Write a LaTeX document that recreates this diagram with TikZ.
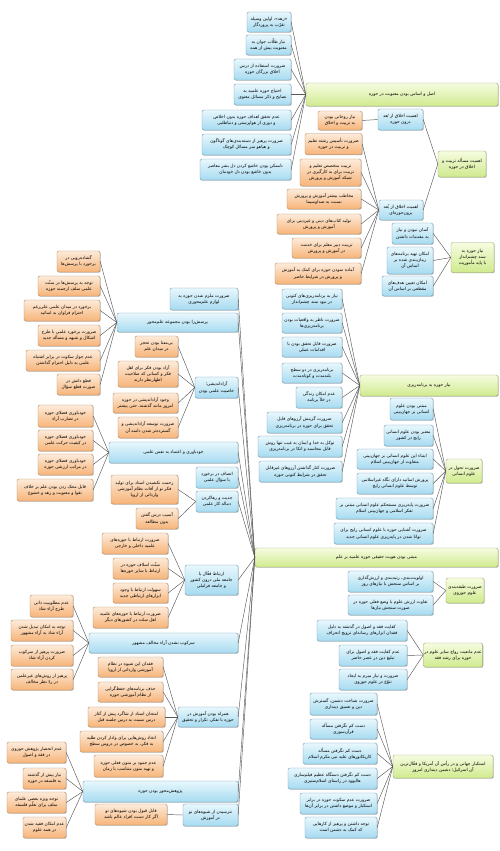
\documentclass[tikz,border=0pt]{standalone}
\usepackage{fontspec}
\newfontfamily\fa[Script=Arabic]{DejaVu Sans}
\TeXXeTstate=1
\usetikzlibrary{shadows}
\newcommand\rl[1]{\beginR #1\endR}
\definecolor{bluetop}{HTML}{E8F7FD}
\definecolor{bluebot}{HTML}{A6DBF0}
\definecolor{bluebd}{HTML}{6E9FB5}
\definecolor{ortop}{HTML}{FDEBDA}
\definecolor{orbot}{HTML}{F7B479}
\definecolor{orbd}{HTML}{B98A5E}
\definecolor{grtop}{HTML}{F6FCE0}
\definecolor{grbot}{HTML}{D0EA8E}
\definecolor{grbd}{HTML}{98AE6A}
\tikzset{
  bxbase/.style={rectangle, rounded corners=2pt, align=center, inner sep=0.8pt,
    font=\fa\fontsize{4.4}{6.1}\selectfont, text=black, line width=0.4pt,
    drop shadow={shadow xshift=0.7pt, shadow yshift=-0.7pt, opacity=0.3, fill=black}},
  bb/.style={bxbase, draw=bluebd, top color=bluetop, bottom color=bluebot},
  ob/.style={bxbase, draw=orbd, top color=ortop, bottom color=orbot},
  gb/.style={bxbase, draw=grbd, top color=grtop, bottom color=grbot},
  ln/.style={draw=black!65, line width=0.45pt}
}
\begin{document}
\begin{tikzpicture}[x=1pt,y=-1pt]
\fill[white] (0,0) rectangle (500,851);
\useasboundingbox (0,0) rectangle (500,851);

% ---------- cluster 1 ----------
\node[gb,minimum width=192pt,minimum height=23pt] (a0) at (402,94.5) {\rl{اصل و اساس بودن معنویت در حوزه}};
\node[bb,minimum width=44pt,minimum height=20pt] (a1) at (269,22) {\rl{«زهد»، اولین وسیله}\\\rl{تقرّب به پروردگار}};
\node[bb,minimum width=45pt,minimum height=20pt] (a2) at (268.5,45) {\rl{نیاز طلّاب جوان به}\\\rl{معنویت بیش از همه}};
\node[bb,minimum width=57pt,minimum height=21pt] (a3) at (262.5,69.5) {\rl{ضرورت استفاده از درس}\\\rl{اخلاق بزرگان حوزه}};
\node[bb,minimum width=57pt,minimum height=21pt] (a4) at (262.5,94.5) {\rl{احتیاج حوزه علمیه به}\\\rl{نصایح و ذکر مسائل معنوی}};
\node[bb,minimum width=89pt,minimum height=20pt] (a5) at (246.5,120) {\rl{عدم تحقق اهداف حوزه بدون اخلاص}\\\rl{و دوری از هواپرستی و دنیاطلبی}};
\node[bb,minimum width=89pt,minimum height=21pt] (a6) at (246.5,144.5) {\rl{ضرورت پرهیز از دسته‌بندی‌های گوناگون}\\\rl{و هیاهو سر مسائل کوچک}};
\node[bb,minimum width=91pt,minimum height=21pt] (a7) at (245.5,169.5) {\rl{ناممکن بودن خاشع کردن دل بشر معاصر}\\\rl{بدون خاشع بودن دل خودمان}};
\foreach \i in {1,...,7} {\draw[ln] (a\i.east) -- (a0.west);}

% ---------- tarbiat ----------
\node[gb,minimum width=48pt,minimum height=26pt] (t0) at (462,164) {\rl{اهمیت مسأله تربیت و}\\\rl{اخلاق در حوزه}};
\node[bb,minimum width=45pt,minimum height=21pt] (t1) at (400.5,119.5) {\rl{اهمیت اخلاق از بُعد}\\\rl{درون حوزه}};
\node[ob,minimum width=44pt,minimum height=19pt] (t1a) at (340,120.5) {\rl{نیاز روحانی بودن}\\\rl{به تربیت و اخلاق}};
\node[bb,minimum width=44pt,minimum height=20pt] (t2) at (401,210) {\rl{اهمیت اخلاق از بُعد}\\\rl{برون‌حوزه‌ای}};
\node[ob,minimum width=57pt,minimum height=21pt] (t2a) at (333.5,144) {\rl{ضرورت تأسیس رشته تعلیم}\\\rl{و تربیت در حوزه}};
\node[ob,minimum width=61pt,minimum height=27pt] (t2b) at (330.5,172.5) {\rl{تربیت متخصص تعلیم و}\\\rl{تربیت برای به کارگیری در}\\\rl{شبکه آموزش و پرورش}};
\node[ob,minimum width=74pt,minimum height=20pt] (t2c) at (324,199) {\rl{مخاطب بیشتر آموزش و پرورش}\\\rl{نسبت به صداوسیما}};
\node[ob,minimum width=84pt,minimum height=20pt] (t2d) at (319,224) {\rl{تولید کتاب‌های دینی و غیردینی برای}\\\rl{آموزش و پرورش}};
\node[ob,minimum width=69pt,minimum height=20pt] (t2e) at (326.5,248) {\rl{تربیت دبیر معلم برای خدمت}\\\rl{در آموزش و پرورش}};
\node[ob,minimum width=86pt,minimum height=21pt] (t2f) at (318,273.5) {\rl{آماده نمودن حوزه برای کمک به آموزش}\\\rl{و پرورش در شرایط حاضر}};
\draw[ln] (t1.east) -- (t0.west);
\draw[ln] (t2.east) -- (t0.west);
\draw[ln] (t1a.east) -- (t1.west);
\foreach \i in {a,b,c,d,e,f} {\draw[ln] (t2\i.east) -- (t2.west);}

% ---------- sanad ----------
\node[gb,minimum width=43pt,minimum height=30pt] (s0) at (472.5,257.5) {\rl{نیاز حوزه به}\\\rl{سند چشم‌انداز}\\\rl{با پایه مأموریت}};
\node[bb,minimum width=41pt,minimum height=21pt] (s1) at (412.5,233.5) {\rl{آسان نبودن و نیاز}\\\rl{به مقدمات داشتن}};
\node[bb,minimum width=46pt,minimum height=27pt] (s2) at (410,260.5) {\rl{امکان تهیه برنامه‌های}\\\rl{زمان‌بندی شده بر}\\\rl{اساس آن}};
\node[bb,minimum width=51pt,minimum height=20pt] (s3) at (407.5,286) {\rl{امکان تعیین هدف‌های}\\\rl{مقطعی بر اساس آن}};
\foreach \i in {1,2,3} {\draw[ln] (s\i.east) -- (s0.west);}

% ---------- barnameh ----------
\node[gb,minimum width=138pt,minimum height=21pt] (p0) at (429,385.5) {\rl{نیاز حوزه به برنامه‌ریزی}};
\node[bb,minimum width=60pt,minimum height=20pt] (p1) at (312,299) {\rl{نیاز به برنامه‌ریزی‌های کنونی}\\\rl{در نبود سند چشم‌انداز}};
\node[bb,minimum width=60pt,minimum height=20pt] (p2) at (312,323) {\rl{ضرورت ناظر به واقعیات بودن}\\\rl{برنامه‌ریزی‌ها}};
\node[bb,minimum width=60pt,minimum height=20pt] (p3) at (312,347) {\rl{ضرورت قابل تحقق بودن با}\\\rl{اقدامات عملی}};
\node[bb,minimum width=60pt,minimum height=20pt] (p4) at (312,373) {\rl{برنامه‌ریزی در دو سطح}\\\rl{بلندمدت و کوتاه‌مدت}};
\node[bb,minimum width=46pt,minimum height=21pt] (p5) at (319,397.5) {\rl{عدم امکان زندگی}\\\rl{در خلأ برنامه}};
\node[bb,minimum width=75pt,minimum height=21pt] (p6) at (304.5,422.5) {\rl{ضرورت گزینش آرزوهای قابل}\\\rl{تحقق برای حوزه در برنامه‌ریزی}};
\node[bb,minimum width=84pt,minimum height=21pt] (p7) at (300,446.5) {\rl{توکل به خدا و ایمان به غیب تنها روش}\\\rl{قابل محاسبه و اتکا در برنامه‌ریزی}};
\node[bb,minimum width=83pt,minimum height=21pt] (p8) at (300.5,471.5) {\rl{ضرورت کنار گذاشتن آرزوهای غیرقابل}\\\rl{تحقق در شرایط کنونی حوزه}};
\foreach \i in {1,...,8} {\draw[ln] (p\i.east) -- (p0.west);}

% ---------- tahavol ----------
\node[gb,minimum width=36pt,minimum height=24pt] (h0) at (464,471) {\rl{ضرورت تحول در}\\\rl{علوم انسانی}};
\node[bb,minimum width=43pt,minimum height=22pt] (h1) at (411.5,409) {\rl{مبتنی بودن علوم}\\\rl{انسانی بر جهان‌بینی}};
\node[bb,minimum width=49pt,minimum height=21pt] (h2) at (408.5,435.5) {\rl{معتبر بودن علوم انسانی}\\\rl{رایج در کشور}};
\node[bb,minimum width=76pt,minimum height=20pt] (h3) at (395,459) {\rl{ابتناء این علوم انسانی بر جهان‌بینی}\\\rl{متفاوت از جهان‌بینی اسلام}};
\node[bb,minimum width=76pt,minimum height=21pt] (h4) at (395,483.5) {\rl{پرورش اساتید دارای نگاه غیراسلامی}\\\rl{توسط علوم انسانی رایج}};
\node[bb,minimum width=97pt,minimum height=21pt] (h5) at (384.5,508.5) {\rl{ضرورت پایه‌ریزی مستحکم علوم انسانی مبتنی بر}\\\rl{تفکر اسلامی و جهان‌بینی اسلام}};
\node[bb,minimum width=99pt,minimum height=21pt] (h6) at (383.5,533.5) {\rl{ضرورت آشنایی حوزه با علوم انسانی رایج برای}\\\rl{توانا شدن در پایه‌ریزی علوم انسانی جدید}};
\foreach \i in {1,...,6} {\draw[ln] (h\i.east) -- (h0.west);}

% ---------- central ----------
\node[gb,minimum width=243pt,minimum height=19pt] (c0) at (376.5,557.5) {\rl{مبتنی بودن هویت حقیقی حوزه علمیه بر علم}};

% ---------- tabaqe ----------
\node[gb,minimum width=38pt,minimum height=25pt] (k0) at (465,590.5) {\rl{ضرورت طبقه‌بندی}\\\rl{علوم حوزوی}};
\node[bb,minimum width=85pt,minimum height=21pt] (k1) at (390.5,581.5) {\rl{اولویت‌بندی، رتبه‌بندی و ارزش‌گذاری}\\\rl{بر اساس سنجش با نیازهای روز}};
\node[bb,minimum width=85pt,minimum height=20pt] (k2) at (390.5,605) {\rl{تفاوت ارزش علوم با وضع فعلی حوزه در}\\\rl{صورت سنجش نیازها}};
\foreach \i in {1,2} {\draw[ln] (k\i.east) -- (k0.west);}

% ---------- manei ----------
\node[gb,minimum width=58pt,minimum height=24pt] (m0) at (453,655) {\rl{عدم مانعیت رواج سایر علوم در}\\\rl{حوزه برای رشد فقه}};
\node[bb,minimum width=90pt,minimum height=21pt] (m1) at (362,630.5) {\rl{کفایت فقه و اصول در گذشته به دلیل}\\\rl{فقدان ابزارهای رسانه‌ای ترویج انحراف}};
\node[bb,minimum width=68pt,minimum height=21pt] (m2) at (373,655.5) {\rl{عدم کفایت فقه و اصول برای}\\\rl{تبلیغ دین در عصر حاضر}};
\node[bb,minimum width=68pt,minimum height=21pt] (m3) at (373,679.5) {\rl{ضرورت و نیاز مبرم به ایجاد}\\\rl{تنوّع در علوم حوزوی}};
\foreach \i in {1,2,3} {\draw[ln] (m\i.east) -- (m0.west);}

% ---------- estekbar ----------
\node[gb,minimum width=100pt,minimum height=23pt] (e0) at (443,766.5) {\rl{استکبار جهانی و در رأس آن آمریکا و فعّال‌ترین}\\\rl{آن اسرائیل؛ دشمن دینداری امروز}};
\node[bb,minimum width=67pt,minimum height=22pt] (e1) at (343.5,704) {\rl{ضرورت شناخت دشمن، گسترش}\\\rl{دین و تعمیق دینداری}};
\node[bb,minimum width=67pt,minimum height=20pt] (e2) at (343.5,729) {\rl{دست کم نگرفتن مسأله}\\\rl{قرآن‌سوزی}};
\node[bb,minimum width=74pt,minimum height=21pt] (e3) at (340,753.5) {\rl{دست کم نگرفتن مسأله}\\\rl{کاریکاتورهای علیه نبی مکرم اسلام}};
\node[bb,minimum width=89pt,minimum height=21pt] (e4) at (332.5,778.5) {\rl{دست کم نگرفتن دستگاه عظیم فیلم‌سازی}\\\rl{هالیوود در راستای اسلام‌ستیزی}};
\node[bb,minimum width=77pt,minimum height=21pt] (e5) at (338.5,803.5) {\rl{ضرورت عدم سکوت حوزه در برابر}\\\rl{استکبار و موضع داشتن در برابر آن‌ها}};
\node[bb,minimum width=72pt,minimum height=21pt] (e6) at (341,827.5) {\rl{توجه داشتن و پرهیز از کارهایی}\\\rl{که کمک به دشمن است}};
\foreach \i in {1,...,6} {\draw[ln] (e\i.east) -- (e0.west);}

% ---------- left side ----------
\node[bb,minimum width=68pt,minimum height=22pt] (L1) at (204,299) {\rl{ضرورت ملزم شدن حوزه به}\\\rl{لوازم علم‌محوری}};
\node[bb,minimum width=121pt,minimum height=19pt] (L2) at (177.5,322.5) {\rl{پرسش‌زا بودن مجموعه علم‌محور}};
\node[ob,minimum width=43pt,minimum height=21pt] (q1) at (78.5,261.5) {\rl{گشاده‌رویی در}\\\rl{برخورد با پرسش‌ها}};
\node[ob,minimum width=62pt,minimum height=20pt] (q2) at (69,286) {\rl{توجه به پرسش‌ها در سنّت}\\\rl{علمی سلف ارجمند حوزه}};
\node[ob,minimum width=76pt,minimum height=21pt] (q3) at (62,310.5) {\rl{برخورد در میدان علمی علی‌رغم}\\\rl{احترام فراوان به اساتید}};
\node[ob,minimum width=62pt,minimum height=21pt] (q4) at (69,335.5) {\rl{ضرورت برخورد علمی با طرح}\\\rl{اشکال و شبهه و مسأله جدید}};
\node[ob,minimum width=74pt,minimum height=21pt] (q5) at (63,360.5) {\rl{عدم جواز سکوت در برابر اشتباه}\\\rl{علمی به دلیل احترام گذاشتن}};
\node[ob,minimum width=43pt,minimum height=21pt] (q6) at (78.5,384.5) {\rl{قطع دانش در}\\\rl{صورت قطع سؤال}};
\foreach \i in {1,...,6} {\draw[ln] (q\i.east) -- (L2.west);}

\node[bb,minimum width=43pt,minimum height=21pt] (L3) at (216.5,387.5) {\rl{آزاداندیشی؛}\\\rl{خاصیت علمی بودن}};
\node[ob,minimum width=43pt,minimum height=21pt] (f1) at (156.5,346.5) {\rl{بی‌معنا بودن تحجر}\\\rl{در میدان علم}};
\node[ob,minimum width=60pt,minimum height=26pt] (f2) at (148,374) {\rl{آزاد بودن فکر برای اهل}\\\rl{فکر و کسانی که صلاحیت}\\\rl{اظهارنظر دارند}};
\node[ob,minimum width=65pt,minimum height=20pt] (f3) at (145.5,403) {\rl{وجود آزاداندیشی در حوزه}\\\rl{امروز مانند گذشته، حتی بیشتر}};
\node[ob,minimum width=60pt,minimum height=21pt] (f4) at (148,427.5) {\rl{ضرورت توسعه آزاداندیشی و}\\\rl{گسترده‌تر شدن دامنه آن}};
\foreach \i in {1,...,4} {\draw[ln] (f\i.east) -- (L3.west);}

\node[bb,minimum width=129pt,minimum height=21pt] (L4) at (173.5,452.5) {\rl{خودباوری و اعتماد به نفس علمی}};
\node[ob,minimum width=55pt,minimum height=22pt] (g1) at (65.5,416) {\rl{خودباوری فضلای حوزه}\\\rl{در تضارب آراء}};
\node[ob,minimum width=55pt,minimum height=21pt] (g2) at (65.5,440.5) {\rl{خودباوری فضلای حوزه}\\\rl{در کیفیت حرکت علمی}};
\node[ob,minimum width=55pt,minimum height=21pt] (g3) at (65.5,464.5) {\rl{خودباوری فضلای حوزه}\\\rl{در مراتب ارزشی حوزه}};
\node[ob,minimum width=76pt,minimum height=22pt] (g4) at (55,490) {\rl{قابل محک زدن بودن علم بر خلاف}\\\rl{تقوا و معنویت و زهد و خشوع}};
\foreach \i in {1,...,4} {\draw[ln] (g\i.east) -- (L4.west);}

\node[bb,minimum width=42pt,minimum height=21pt] (L5) at (217,477.5) {\rl{انصاف در برخورد}\\\rl{با سؤال علمی}};
\node[bb,minimum width=42pt,minimum height=21pt] (L6) at (217,501.5) {\rl{جدیت و رهاکردن}\\\rl{دنباله کار علمی}};
\node[ob,minimum width=67pt,minimum height=29pt] (j1) at (144.5,489.5) {\rl{زحمت نکشیدن استاد برای تولید}\\\rl{فکر نو از آفات نظام آموزشی}\\\rl{وارداتی از اروپا}};
\node[ob,minimum width=42pt,minimum height=21pt] (j2) at (157,518.5) {\rl{آسیب درس گفتن}\\\rl{بدون مطالعه}};
\foreach \i in {1,2} {\draw[ln] (j\i.east) -- (L6.west);}

\node[bb,minimum width=53pt,minimum height=30pt] (L7) at (211.5,580) {\rl{ارتباط فعّال با}\\\rl{جامعه ملی درون کشور}\\\rl{و جامعه فراملی}};
\node[ob,minimum width=66pt,minimum height=21pt] (r1) at (135,543.5) {\rl{ضرورت ارتباط با حوزه‌های}\\\rl{علمیه داخلی و خارجی}};
\node[ob,minimum width=55pt,minimum height=21pt] (r2) at (140.5,568.5) {\rl{سنّت اسلاف حوزه در}\\\rl{ارتباط با سایر حوزه‌ها}};
\node[ob,minimum width=55pt,minimum height=20pt] (r3) at (140.5,593) {\rl{سهولت ارتباط با وجود}\\\rl{ابزارهای ارتباطی جدید}};
\node[ob,minimum width=75pt,minimum height=21pt] (r4) at (130.5,617.5) {\rl{ضرورت ارتباط با حوزه‌های علمیه}\\\rl{اهل سنّت در کشورهای دیگر}};
\foreach \i in {1,...,4} {\draw[ln] (r\i.east) -- (L7.west);}

\node[bb,minimum width=149pt,minimum height=20pt] (L8) at (163.5,643) {\rl{سرکوب نشدن آراء مخالف مشهور}};
\node[ob,minimum width=43pt,minimum height=22pt] (o1) at (51.5,606) {\rl{عدم مطلوبیت ذاتی}\\\rl{طرح آراء شاذ}};
\node[ob,minimum width=62pt,minimum height=21pt] (o2) at (42,630.5) {\rl{توجه به امکان تبدیل شدن}\\\rl{آراء شاذ به آراء مشهور}};
\node[ob,minimum width=62pt,minimum height=21pt] (o3) at (42,655.5) {\rl{ضرورت پرهیز از سرکوب}\\\rl{کردن آراء شاذ}};
\node[ob,minimum width=62pt,minimum height=21pt] (o4) at (42,679.5) {\rl{پرهیز از روش‌های غیرعلمی}\\\rl{در ردّ نظر مخالف}};
\foreach \i in {1,...,4} {\draw[ln] (o\i.east) -- (L8.west);}

\node[bb,minimum width=60pt,minimum height=20pt] (L9) at (208,717) {\rl{همراه بودن آموزش در}\\\rl{حوزه با تفکر، تکرار و تحقیق}};
\node[ob,minimum width=65pt,minimum height=20pt] (w1) at (130.5,667) {\rl{فقدان این شیوه در نظام}\\\rl{آموزشی وارداتی از اروپا}};
\node[ob,minimum width=65pt,minimum height=20pt] (w2) at (130.5,692) {\rl{حذف برنامه‌های حفظ‌گرایی}\\\rl{از نظام آموزشی حوزه}};
\node[ob,minimum width=77pt,minimum height=20pt] (w3) at (126.5,717) {\rl{امتحان استاد از شاگرد پیش از آغاز}\\\rl{درس نسبت به درس جلسه قبل}};
\node[ob,minimum width=83pt,minimum height=21pt] (w4) at (121.5,741.5) {\rl{اتخاذ روش‌هایی برای وادار کردن طلبه}\\\rl{به فکر، به خصوص در دروس سطح}};
\node[ob,minimum width=69pt,minimum height=22pt] (w5) at (128.5,766) {\rl{عدم جمود بر متون فعلی حوزه}\\\rl{و تهیه متون متناسب با زمان}};
\foreach \i in {1,...,5} {\draw[ln] (w\i.east) -- (L9.west);}

\node[bb,minimum width=155pt,minimum height=21pt] (L10) at (160.5,791.5) {\rl{پژوهش‌محور بودن حوزه}};
\node[ob,minimum width=59pt,minimum height=21pt] (z1) at (36.5,752.5) {\rl{عدم انحصار پژوهش حوزوی}\\\rl{در فقه و اصول}};
\node[ob,minimum width=43pt,minimum height=21pt] (z2) at (44.5,778.5) {\rl{نیاز بیش از گذشته}\\\rl{به فلسفه در حوزه}};
\node[ob,minimum width=59pt,minimum height=21pt] (z3) at (36.5,802.5) {\rl{توجه ویژه بعضی علمای}\\\rl{سلف برای تعلّم فلسفه}};
\node[ob,minimum width=43pt,minimum height=21pt] (z4) at (44.5,827.5) {\rl{عدم امکان فقیه شدن}\\\rl{در همه علوم}};
\foreach \i in {1,...,4} {\draw[ln] (z\i.east) -- (L10.west);}

\node[bb,minimum width=55pt,minimum height=22pt] (L11) at (210.5,815) {\rl{نترسیدن از شیوه‌های نو}\\\rl{در آموزش}};
\node[ob,minimum width=72pt,minimum height=21pt] (n1) at (131,814.5) {\rl{قابل قبول بودن شیوه‌های نو}\\\rl{اگر کار دست افراد عالم باشد}};
\draw[ln] (n1.east) -- (L11.west);

% ---------- hub connections ----------
\foreach \n in {L1,L2,L3,L4,L5,L6,L7,L8,L9,L10,L11} {\draw[ln] (c0.west) -- (\n.east);}
\end{tikzpicture}
\end{document}
